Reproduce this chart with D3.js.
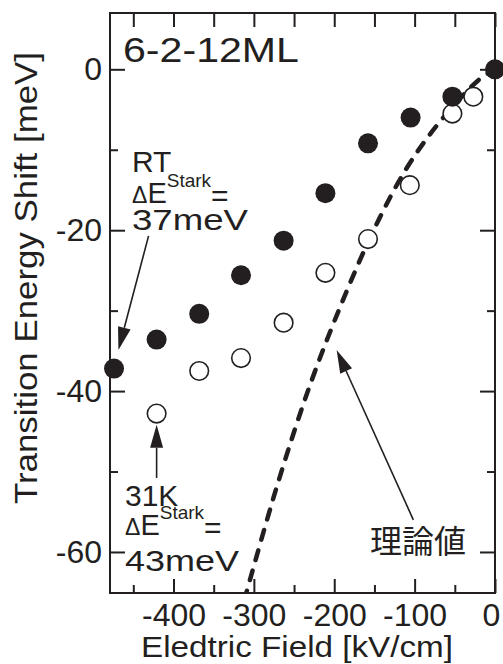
<!DOCTYPE html>
<html>
<head>
<meta charset="utf-8">
<script src="https://cdn.jsdelivr.net/npm/d3@7"></script>
<style>
  body { margin: 0; background: #fff; }
  text { font-family: "Liberation Sans", Arial, sans-serif; fill: #231f20; }
</style>
</head>
<body>
<div id="chart"></div>
<script>
// RT data (filled circles)
var rtField = [-474, -421, -368, -316, -263, -211, -158, -105, -53, 0];
var rtShift = [-37.2, -33.6, -30.4, -25.6, -21.3, -15.4, -9.2, -6.0, -3.4, 0];
// 31K data (open circles)
var lowField = [-421, -368, -316, -263, -211, -158, -106, -53, -27];
var lowShift = [-42.8, -37.5, -35.9, -31.5, -25.3, -21.1, -14.4, -5.5, -3.4];
// theory curve (dashed)
var theoryField = [-312, -270, -230, -190, -150, -110, -70, -20, 0];
var theoryShift = [-66.0, -51.4, -39.2, -28.9, -19.8, -12.3, -6.7, -1.3, 0];

var xMajor = [-400, -300, -200, -100, 0];
var xMinor = [-450, -350, -250, -150, -50];
var yMajor = [0, -20, -40, -60];
var yMinor = [-10, -30, -50];

var width = 503, height = 664;
var margin = {top: 13, right: 8, bottom: 71, left: 110};
var ink = "#231f20";

var svg = d3.select("#chart").append("svg")
  .attr("width", width)
  .attr("height", height);

var x = d3.scaleLinear().domain([-479, 0]).range([margin.left, width - margin.right]);
var y = d3.scaleLinear().domain([-65.1, 7]).range([height - margin.bottom, margin.top]);

// plain hyphen instead of unicode minus
var fmt = function(d) { return String(d); };

svg.append("clipPath").attr("id", "plotclip")
  .append("rect")
  .attr("x", x(-479)).attr("y", y(7))
  .attr("width", x(0) - x(-479)).attr("height", y(-65.1) - y(7));

function styleAxis(g) {
  g.select(".domain").remove();
  g.selectAll(".tick line").attr("stroke", ink).attr("stroke-width", 2);
  g.selectAll("text").style("font-family", "'Liberation Sans', Arial, sans-serif")
    .style("font-size", "32px").attr("fill", ink);
}

// bottom axis
var bottomAxis = svg.append("g").attr("transform", "translate(0," + y(-65.1) + ")")
  .call(d3.axisBottom(x).tickValues(xMajor).tickSize(-14).tickPadding(10).tickFormat(fmt))
  .call(styleAxis);
bottomAxis.selectAll(".tick text").filter(function(d) { return d === 0; }).attr("dx", -4);
svg.append("g").attr("transform", "translate(0," + y(-65.1) + ")")
  .call(d3.axisBottom(x).tickValues(xMinor).tickSize(-8).tickFormat(""))
  .call(styleAxis);
// top axis
svg.append("g").attr("transform", "translate(0," + y(7) + ")")
  .call(d3.axisTop(x).tickValues(xMajor.concat(xMinor)).tickSize(-14).tickFormat(""))
  .call(styleAxis);
// left axis
svg.append("g").attr("transform", "translate(" + x(-479) + ",0)")
  .call(d3.axisLeft(y).tickValues(yMajor).tickSize(-15).tickPadding(8).tickFormat(fmt))
  .call(styleAxis);
svg.append("g").attr("transform", "translate(" + x(-479) + ",0)")
  .call(d3.axisLeft(y).tickValues(yMinor).tickSize(-8).tickFormat(""))
  .call(styleAxis);
// right axis
svg.append("g").attr("transform", "translate(" + x(0) + ",0)")
  .call(d3.axisRight(y).tickValues(yMajor).tickSize(-15).tickFormat(""))
  .call(styleAxis);
svg.append("g").attr("transform", "translate(" + x(0) + ",0)")
  .call(d3.axisRight(y).tickValues(yMinor).tickSize(-8).tickFormat(""))
  .call(styleAxis);

// frame
svg.append("rect")
  .attr("x", x(-479)).attr("y", y(7))
  .attr("width", x(0) - x(-479)).attr("height", y(-65.1) - y(7))
  .attr("fill", "none").attr("stroke", ink).attr("stroke-width", 2);

// theory dashed curve
var theory = theoryField.map(function(f, i) { return [f, theoryShift[i]]; });
svg.append("path")
  .datum(theory)
  .attr("clip-path", "url(#plotclip)")
  .attr("d", d3.line().x(function(d) { return x(d[0]); }).y(function(d) { return y(d[1]); }).curve(d3.curveCatmullRom))
  .attr("fill", "none")
  .attr("stroke", ink)
  .attr("stroke-width", 4.5)
  .attr("stroke-linecap", "round")
  .attr("stroke-dasharray", "10,11");

// open circles (31K)
svg.selectAll(".low")
  .data(lowField.map(function(f, i) { return [f, lowShift[i]]; }))
  .enter().append("circle")
  .attr("class", "low")
  .attr("cx", function(d) { return x(d[0]); })
  .attr("cy", function(d) { return y(d[1]); })
  .attr("r", 9.3)
  .attr("fill", "#fff")
  .attr("stroke", ink)
  .attr("stroke-width", 1.6);

// filled circles (RT)
svg.selectAll(".rt")
  .data(rtField.map(function(f, i) { return [f, rtShift[i]]; }))
  .enter().append("circle")
  .attr("class", "rt")
  .attr("cx", function(d) { return x(d[0]); })
  .attr("cy", function(d) { return y(d[1]); })
  .attr("r", 10)
  .attr("fill", ink);

// arrows: [fromField, fromShift, toField, toShift]
var arrows = [
  [-431, -20.7, -468.5, -34.9],
  [-421, -50.8, -421, -44.2],
  [-101.6, -56.0, -197, -34.9]
];
arrows.forEach(function(a) {
  var x1 = x(a[0]), y1 = y(a[1]), x2 = x(a[2]), y2 = y(a[3]);
  var dx = x2 - x1, dy = y2 - y1, len = Math.sqrt(dx * dx + dy * dy);
  var ux = dx / len, uy = dy / len;
  var hl = 23, hw = 6.5;
  var bx = x2 - ux * hl, by = y2 - uy * hl;
  svg.append("line")
    .attr("x1", x1).attr("y1", y1).attr("x2", bx).attr("y2", by)
    .attr("stroke", ink).attr("stroke-width", 1.6);
  svg.append("path")
    .attr("d", "M" + x2 + "," + y2 + "L" + (bx - uy * hw) + "," + (by + ux * hw) + "L" + (bx + uy * hw) + "," + (by - ux * hw) + "Z")
    .attr("fill", ink);
});

// sample label
svg.append("text")
  .attr("x", 123).attr("y", 62)
  .style("font-size", "35px")
  .attr("textLength", 176).attr("lengthAdjust", "spacingAndGlyphs")
  .text("6-2-12ML");

// annotation blocks
function starkBlock(x0, yTop, yMid, yBot, top, bottom, botLen) {
  svg.append("text").attr("x", x0).attr("y", yTop).style("font-size", "30px").text(top);
  var t = svg.append("text").attr("x", x0).attr("y", yMid);
  t.append("tspan").style("font-size", "23px").text("\u0394");
  t.append("tspan").style("font-size", "29px").text("E");
  t.append("tspan").style("font-size", "19px").attr("dy", -16).text("Stark");
  t.append("tspan").style("font-size", "30px").attr("dy", 19).text("=");
  svg.append("text").attr("x", x0).attr("y", yBot).style("font-size", "30px")
    .attr("textLength", botLen).attr("lengthAdjust", "spacingAndGlyphs").text(bottom);
}
starkBlock(132, 172, 203, 230, "RT", "37meV", 116);
starkBlock(125, 506, 535, 571, "31K", "43meV", 114);

// theory label
svg.append("text")
  .attr("x", 370).attr("y", 553)
  .style("font-family", "'Noto Sans CJK JP', sans-serif")
  .style("font-size", "32px")
  .text("理論値");

// axis titles
svg.append("text")
  .attr("x", 297).attr("y", 657)
  .attr("text-anchor", "middle")
  .style("font-size", "30px")
  .attr("textLength", 312).attr("lengthAdjust", "spacingAndGlyphs")
  .text("Eledtric Field [kV/cm]");

svg.append("text")
  .attr("transform", "translate(37,278) rotate(-90)")
  .attr("text-anchor", "middle")
  .style("font-size", "32px")
  .attr("textLength", 452).attr("lengthAdjust", "spacingAndGlyphs")
  .text("Transition Energy Shift [meV]");
</script>
</body>
</html>
